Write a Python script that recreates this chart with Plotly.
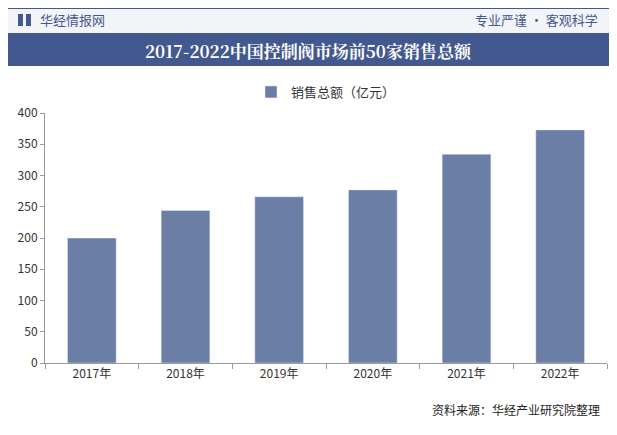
import plotly.graph_objects as go

years = ["2017年", "2018年", "2019年", "2020年", "2021年", "2022年"]
sales = [200, 244, 266, 277, 334, 373]

fig = go.Figure(go.Bar(x=years, y=sales, name="销售总额（亿元）",
                       marker_color="#6a7ea6", width=0.52))

W, H = 617, 435
OFF = 8  # page body margin in the browser
L, R, T, B = 45 - OFF, 10 + OFF, 113 - OFF, 72 + OFF
PW, PH = W - L - R, H - T - B

def py(p):  # screen pixel y -> paper (paper is the plot area)
    return (H - B - (p - OFF)) / PH

def px(p):
    return (p - OFF - L) / PW

shapes = [
    dict(type="rect", xref="paper", yref="paper", x0=px(8), x1=px(611), y0=py(8), y1=py(33),
         fillcolor="#f3f4f8", line_width=0, layer="below"),
    dict(type="line", xref="paper", yref="paper", x0=px(8), x1=px(611), y0=py(8), y1=py(8),
         line=dict(color="#43588f", width=2)),
    dict(type="rect", xref="paper", yref="paper", x0=px(8), x1=px(611), y0=py(66), y1=py(33),
         fillcolor="#43588f", line_width=0, layer="below"),
    dict(type="rect", xref="paper", yref="paper", x0=px(18), x1=px(23), y0=py(26), y1=py(14),
         fillcolor="#43588f", line_width=0),
    dict(type="rect", xref="paper", yref="paper", x0=px(26), x1=px(31), y0=py(26), y1=py(14),
         fillcolor="#43588f", line_width=0),
]

annotations = [
    dict(text="华经情报网", x=px(38), y=py(20), xref="paper", yref="paper", showarrow=False,
         xanchor="left", yanchor="middle", font=dict(size=13, color="#43588f")),
    dict(text="专业严谨 • 客观科学", x=px(600), y=py(20), xref="paper", yref="paper", showarrow=False,
         xanchor="right", yanchor="middle", font=dict(size=13, color="#43588f")),
    dict(text="<b>2017-2022中国控制阀市场前50家销售总额</b>", x=px(308), y=py(50), xref="paper",
         yref="paper", showarrow=False, yanchor="middle",
         font=dict(size=17, color="white", family="Noto Serif CJK SC, DejaVu Serif, serif")),
    dict(text="资料来源：华经产业研究院整理", x=px(602), y=py(409), xref="paper", yref="paper",
         showarrow=False, xanchor="right", yanchor="middle", font=dict(size=12, color="#222")),
]

fig.update_layout(
    width=W, height=H, paper_bgcolor="white", plot_bgcolor="white",
    margin=dict(l=L, r=R, t=T, b=B, autoexpand=False),
    font=dict(family="Noto Sans CJK SC", size=12, color="#333"),
    shapes=shapes, annotations=annotations,
    showlegend=True,
    legend=dict(orientation="h", x=0.5, xanchor="center", y=py(92), yanchor="middle",
                font=dict(size=13, color="#333")),
    yaxis=dict(range=[0, 400], dtick=50, showgrid=False, showline=True,
               linecolor="#999", ticks="outside", ticklen=4, tickcolor="#999", zeroline=False),
    xaxis=dict(showline=True, linecolor="#999", ticks="outside", ticklen=5, tickcolor="#999",
               tickson="boundaries"),
)

fig.write_html("out.html")
